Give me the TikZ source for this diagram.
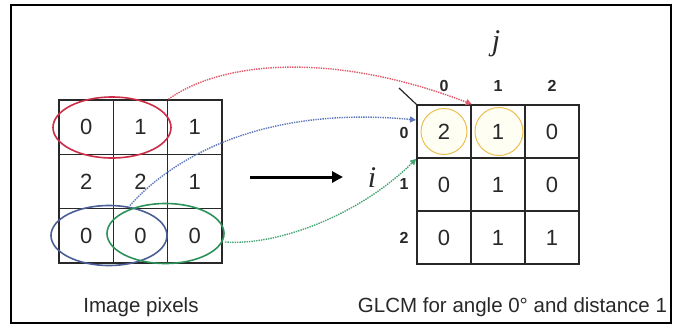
\documentclass[tikz,border=0pt]{standalone}
\usepackage{fontspec}
\setmainfont{Liberation Sans}
\newfontfamily\tmsfont{Liberation Serif}
\usetikzlibrary{shapes.geometric,arrows.meta}
\definecolor{ellred}{RGB}{205,45,70}
\definecolor{ellblue}{RGB}{75,95,150}
\definecolor{ellgreen}{RGB}{45,145,90}
\definecolor{conred}{RGB}{225,90,105}
\definecolor{conblue}{RGB}{95,120,185}
\definecolor{congreen}{RGB}{70,165,115}
\definecolor{circyel}{RGB}{235,190,80}
\definecolor{gridcol}{RGB}{40,40,40}
\definecolor{txtcol}{RGB}{40,40,40}
\begin{document}
\begin{tikzpicture}[x=1pt,y=-1pt,
  lcell/.style={draw=gridcol,line width=1.6pt,minimum width=54.3pt,minimum height=54.3pt,inner sep=0pt,font=\fontsize{22}{24}\selectfont,text=txtcol},
  rcell/.style={draw=gridcol,line width=1.6pt,minimum width=54pt,minimum height=53pt,inner sep=0pt,font=\fontsize{22}{24}\selectfont,text=txtcol},
  hdr/.style={inner sep=0pt,font=\fontsize{16}{18}\selectfont\bfseries,text=txtcol},
  ell/.style={ellipse,draw,line width=1.6pt,inner sep=0pt},
  ycirc/.style={circle,draw=circyel,fill=yellow!5,line width=1pt,minimum size=46pt,inner sep=0pt},
  conn/.style={line width=1.4pt,densely dotted,-{Triangle[length=6pt,width=6pt]}},
  caption/.style={inner sep=0pt,font=\fontsize{20.5}{22}\selectfont,text=txtcol},
  axlab/.style={inner sep=0pt,font=\fontsize{30}{32}\selectfont\tmsfont\itshape,text=txtcol}
]
\useasboundingbox (0,0) rectangle (673,325);
\draw[line width=2pt,black] (11,5) rectangle (671,323);

% yellow circles in GLCM
\node[ycirc] (yc0) at (444,131.5) {};
\node[ycirc,minimum size=48pt] (yc1) at (499,131.5) {};

% left grid (image pixels)
\node[lcell] (L00) at (86.2,127.2) {0};
\node[lcell] (L01) at (140.5,127.2) {1};
\node[lcell] (L02) at (194.8,127.2) {1};
\node[lcell] (L10) at (86.2,181.5) {2};
\node[lcell] (L11) at (140.5,181.5) {2};
\node[lcell] (L12) at (194.8,181.5) {1};
\node[lcell] (L20) at (86.2,235.8) {0};
\node[lcell] (L21) at (140.5,235.8) {0};
\node[lcell] (L22) at (194.8,235.8) {0};

% right grid (GLCM)
\node[rcell] (R00) at (444,131.5) {2};
\node[rcell] (R01) at (498,131.5) {1};
\node[rcell] (R02) at (552,131.5) {0};
\node[rcell] (R10) at (444,184.5) {0};
\node[rcell] (R11) at (498,184.5) {1};
\node[rcell] (R12) at (552,184.5) {0};
\node[rcell] (R20) at (444,237.5) {0};
\node[rcell] (R21) at (498,237.5) {1};
\node[rcell] (R22) at (552,237.5) {1};

% ellipses on image pixels
\node[ell,draw=ellred,minimum width=118pt,minimum height=61pt] (redE) at (112,127.5) {};
\node[ell,draw=ellblue,minimum width=116pt,minimum height=60pt] (blueE) at (109,235.5) {};
\node[ell,draw=ellgreen,minimum width=117pt,minimum height=60pt] (greenE) at (165.5,233.5) {};

% headers
\node[hdr] (c0) at (444,86) {0};
\node[hdr] (c1) at (498,86) {1};
\node[hdr] (c2) at (552,86) {2};
\node[hdr] (r0) at (404,133) {0};
\node[hdr] (r1) at (404,184) {1};
\node[hdr] (r2) at (404,238) {2};
\node[axlab] (jlab) at (496,44) {j};
\node[axlab] (ilab) at (372,178) {i};

% corner diagonal
\coordinate (diagend) at (399,88);
\draw[line width=1.2pt,gridcol] (R00.north west) -- (diagend);

% main arrow
\coordinate (arrS) at (250,177);
\coordinate (arrE) at (343,177);
\draw[line width=3pt,-{Triangle[length=11pt,width=11pt]}] (arrS) -- (arrE);

% connectors
\coordinate (redS) at (L01.north east);
\coordinate (redT) at (R00.north east);
\coordinate (blueS) at (130,205.5);
\coordinate (blueT) at (416,120);
\coordinate (greenS) at (225,242);
\coordinate (greenT) at (R00.south west);
\draw[conn,conred] (redS) .. controls (220,62) and (330,50) .. (redT);
\draw[conn,conblue] (blueS) .. controls (170,160) and (260,105) .. (blueT);
\draw[conn,congreen] (greenS) .. controls (280,246) and (362,213) .. (greenT);

% captions
\node[caption,anchor=base] (cap1) at (141,312) {Image pixels};
\node[caption,anchor=base] (cap2) at (512.5,312) {GLCM for angle 0° and distance 1};
\end{tikzpicture}
\end{document}
